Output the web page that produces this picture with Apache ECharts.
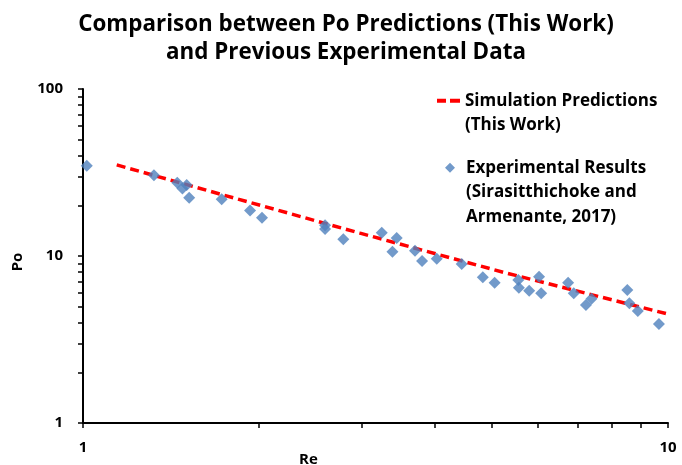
<!DOCTYPE html>
<html>
<head>
<meta charset="utf-8">
<script src="https://cdn.jsdelivr.net/npm/echarts@6/dist/echarts.min.js"></script>
<style>
html,body{margin:0;padding:0;background:#fff;}
#chart{width:682px;height:465px;}
</style>
</head>
<body>
<div id="chart"></div>
<script>
// Simulation predictions (red dashed line)
const simRe = [1.142, 1.737, 2.975, 5.23, 10];
const simPo = [35.1, 23.2, 13.7, 7.99, 4.49];
// Experimental results (diamonds)
const expRe = [1.015, 1.322, 1.449, 1.504, 1.479, 1.519, 1.726, 1.930, 2.023, 2.593, 2.593, 2.786,
  3.241, 3.437, 3.380, 3.694, 3.798, 4.024, 4.439, 4.824, 5.054, 5.548, 5.56, 5.79, 6.02, 6.07,
  6.75, 6.90, 7.24, 7.40, 8.52, 8.59, 8.88, 9.65];
const expPo = [34.7, 30.4, 27.5, 26.6, 25.4, 22.3, 21.9, 18.7, 16.96, 15.3, 14.5, 12.6,
  13.8, 12.8, 10.6, 10.76, 9.33, 9.64, 8.96, 7.45, 6.92, 7.18, 6.46, 6.2, 7.52, 5.98,
  6.92, 5.98, 5.09, 5.55, 6.26, 5.21, 4.69, 3.92];
// Axis ticks and labels
const xTicks = [1, 2, 3, 4, 5, 6, 7, 8, 9, 10];
const xLabels = [1, 10];
const yTicks = [1, 2, 3, 4, 5, 6, 7, 8, 9, 10, 20, 30, 40, 50, 60, 70, 80, 90, 100];
const yLabels = [1, 10, 100];

const titleText = 'Comparison between Po Predictions (This Work)\nand Previous Experimental Data';
const simName = 'Simulation Predictions';
const expName = 'Experimental Results';
const legendText = {};
legendText[simName] = ' \nSimulation Predictions\n(This Work)';
legendText[expName] = ' \n \nExperimental Results\n(Sirasitthichoke and\nArmenante, 2017)';

const FONT = '"Open Sans", Lato, sans-serif';
const chart = echarts.init(document.getElementById('chart'), null, {renderer: 'canvas'});
const axisCommon = {
  axisLine: {show: true, lineStyle: {color: '#000', width: 2}},
  splitLine: {show: false},
  axisLabel: {color: '#000', fontFamily: FONT, fontWeight: 'bold', fontSize: 15},
  nameTextStyle: {color: '#000', fontFamily: FONT, fontWeight: 'bold', fontSize: 15}
};
const legendTextStyle = {fontFamily: FONT, fontWeight: 'bold', fontSize: 17, lineHeight: 24.5, color: '#000'};
chart.setOption({
  animation: false,
  backgroundColor: '#fff',
  title: {
    text: titleText,
    left: 341, top: 6, textAlign: 'center',
    textStyle: {fontFamily: FONT, fontWeight: 'bold', fontSize: 22.4, lineHeight: 28, color: '#000'}
  },
  grid: {left: 83, right: 14, top: 89, bottom: 42, containLabel: false, outerBoundsMode: 'none'},
  legend: [
    {
      data: [{name: simName, icon: 'path://M0,0H9V4H0ZM13,0H23V4H13Z'}],
      orient: 'vertical', left: 437, top: 64, padding: 0,
      itemWidth: 23, itemHeight: 4,
      itemStyle: {color: '#ff0000', borderWidth: 0},
      formatter: n => legendText[n],
      textStyle: legendTextStyle
    },
    {
      data: [{name: expName, icon: 'path://M0,5L0,5ZM6,5L11,0L16,5L11,10ZM22,5L22,5Z'}],
      orient: 'vertical', left: 439, top: 106.5, padding: 0,
      itemWidth: 22, itemHeight: 10,
      itemStyle: {color: '#4f81bd', borderWidth: 0},
      formatter: n => legendText[n],
      textStyle: legendTextStyle
    }
  ],
  xAxis: Object.assign({}, axisCommon, {
    type: 'log', logBase: 10, min: 1, max: 10,
    name: 'Re', nameLocation: 'middle', nameGap: 29, nameMoveOverlap: false,
    nameTextStyle: Object.assign({}, axisCommon.nameTextStyle, {padding: [0, 134, 0, 0]}),
    axisTick: {show: true, inside: false, length: 5, lineStyle: {color: '#000', width: 1.5}, customValues: xTicks},
    axisLabel: Object.assign({}, axisCommon.axisLabel, {margin: 17, customValues: xLabels})
  }),
  yAxis: Object.assign({}, axisCommon, {
    type: 'log', logBase: 10, min: 1, max: 100,
    name: 'Po', nameLocation: 'middle', nameGap: 58, nameRotate: 90, nameMoveOverlap: false,
    nameTextStyle: Object.assign({}, axisCommon.nameTextStyle, {padding: [0, 12, 0, 0]}),
    axisTick: {show: true, inside: false, length: 5, lineStyle: {color: '#000', width: 1.5}, customValues: yTicks},
    axisLabel: Object.assign({}, axisCommon.axisLabel, {margin: 20, customValues: yLabels})
  }),
  series: [
    {
      name: simName, type: 'line', symbol: 'none', smooth: false,
      data: simRe.map((x, i) => [x, simPo[i]]),
      lineStyle: {color: '#ff0000', width: 3.5, type: [9, 5]},
      itemStyle: {color: '#ff0000'},
      z: 2
    },
    {
      name: expName, type: 'scatter', symbol: 'diamond', symbolSize: 12,
      data: expRe.map((x, i) => [x, expPo[i]]),
      itemStyle: {color: '#4f81bd'},
      z: 3
    }
  ]
});
</script>
</body>
</html>
